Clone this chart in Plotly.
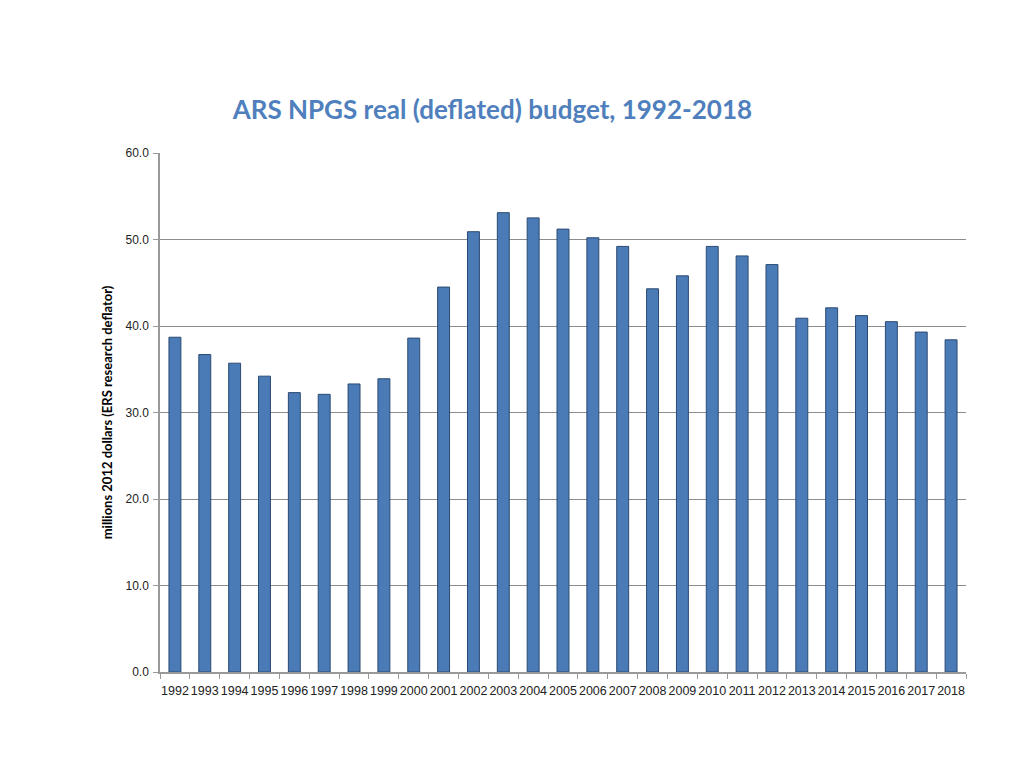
import plotly.graph_objects as go

years = [str(y) for y in range(1992, 2019)]
budget = [38.7, 36.7, 35.7, 34.2, 32.3, 32.1, 33.3, 33.9, 38.6, 44.5, 50.9, 53.1, 52.5,
          51.2, 50.2, 49.2, 44.3, 45.8, 49.2, 48.1, 47.1, 40.9, 42.1, 41.2, 40.5, 39.3, 38.4]
y_ticks = [0, 10, 20, 30, 40, 50, 60]

fig = go.Figure()
fig.add_trace(go.Bar(
    x=years, y=budget,
    marker=dict(color="#4A7BB7", line=dict(color="#2B4A73", width=1)),
))

fig.update_layout(
    width=1024, height=768,
    margin=dict(l=152, r=66, t=145, b=104),
    paper_bgcolor="white", plot_bgcolor="white",
    bargap=0.6,
    showlegend=False,
    title=dict(text="<b>ARS NPGS real (deflated) budget, 1992-2018</b>",
               x=0.473, xref="container", xanchor="center",
               y=0.867, yref="container", yanchor="middle",
               font=dict(family="Lato, Open Sans, sans-serif", size=26, color="#4F7FBC")),
    font=dict(family="Liberation Sans, Arial, sans-serif", size=12, color="black"),
)
fig.update_xaxes(
    type="category", tickson="boundaries", ticks="outside", ticklen=5,
    tickcolor="#999999", showline=True, linecolor="#999999", linewidth=1.5,
    tickfont=dict(size=12.5, color="#222222"), tickangle=0, ticklabelstandoff=6, showgrid=False,
)
fig.update_yaxes(
    range=[0, 60], tickvals=y_ticks, tickformat=".1f",
    ticks="outside", ticklen=5, tickcolor="#999999",
    showline=True, linecolor="#999999", linewidth=1.5,
    showgrid=True, gridcolor="#8C8C8C", gridwidth=1, zeroline=False,
    tickfont=dict(size=12, color="#222222"), ticklabelstandoff=2,
    title=dict(text="<b>millions 2012 dollars (ERS research deflator)</b>",
               font=dict(family="Lato, Open Sans, sans-serif", size=13), standoff=10),
)

fig.write_html("out.html")
